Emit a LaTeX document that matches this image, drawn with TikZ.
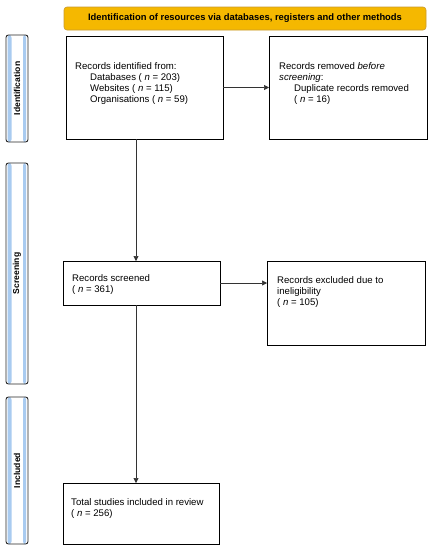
\documentclass[tikz,border=0pt]{standalone}
\usepackage{fontspec}
\setmainfont{Liberation Sans}
\usetikzlibrary{arrows.meta}
\definecolor{bannerfill}{HTML}{F5B800}
\definecolor{bannerline}{HTML}{C99A2E}
\definecolor{barblue}{HTML}{A9CBF0}
\begin{document}
\begin{tikzpicture}[x=1pt,y=-1pt,
  box/.style={draw=black, line width=0.9pt, fill=white, inner sep=0pt, outer sep=0pt},
  txt/.style={anchor=west, align=left, inner sep=0pt, font=\fontsize{9.6}{11}\selectfont},
  bar/.style={draw=black!85, line width=0.9pt, rounded corners=2.5pt, fill=white, minimum width=22pt, inner sep=0pt, outer sep=0pt,
    path picture={
      \fill[barblue] ([xshift=1.5pt]path picture bounding box.south west) rectangle ([xshift=5.5pt]path picture bounding box.north west);
      \fill[barblue] ([xshift=-5pt]path picture bounding box.south east) rectangle ([xshift=-2pt]path picture bounding box.north east);
    }},
  barlabel/.style={rotate=90, inner sep=0pt, font=\fontsize{8.6}{10}\selectfont\bfseries},
  arr/.style={draw=black!80, line width=0.6pt, -{Triangle[length=5pt,width=5pt]}}
]
\useasboundingbox (0,0) rectangle (431,550);
\fill[white] (0,0) rectangle (431,550);

% banner
\node[draw=bannerline, fill=bannerfill, line width=0.6pt, rounded corners=3pt, minimum width=362pt, minimum height=23pt, inner sep=0pt,
  font=\fontsize{9.4}{11}\selectfont\bfseries] (banner) at (245,18.5)
  {Identification of resources via databases, registers and other methods};

% side bars
\node[bar, minimum height=107pt] (idbar) at (17,88.5) {};
\node[barlabel] (idlabel) at (idbar.center) {Identification};
\node[bar, minimum height=221pt] (scrbar) at (17,273.5) {};
\node[barlabel] (scrlabel) at (scrbar.center) {Screening};
\node[bar, minimum height=147pt] (incbar) at (17,470.5) {};
\node[barlabel] (inclabel) at (incbar.center) {Included};

% boxes
\node[box, minimum width=157pt, minimum height=103pt] (idbox) at (144.5,87.5) {};
\node[box, minimum width=158pt, minimum height=103pt] (removed) at (348,87.5) {};
\node[box, minimum width=157pt, minimum height=44pt] (screened) at (141.5,283) {};
\node[box, minimum width=158pt, minimum height=84pt] (excluded) at (346,303) {};
\node[box, minimum width=156pt, minimum height=61pt] (included) at (141,513.5) {};

% texts
\node[txt] (idtext) at (75,83.5) {Records identified from:\\
\hspace*{15pt}Databases ( \textit{n} = 203)\\
\hspace*{15pt}Websites ( \textit{n} = 115)\\
\hspace*{15pt}Organisations ( \textit{n} = 59)};
\node[txt] (remtext) at (279,83.5) {Records removed \textit{before}\\
\textit{screening}:\\
\hspace*{15pt}Duplicate records removed\\
\hspace*{15pt}( \textit{n} = 16)};
\node[txt] (scrtext) at (72,284.5) {Records screened\\( \textit{n} = 361)};
\node[txt] (exctext) at (277,292.5) {Records excluded due to\\ineligibility\\( \textit{n} = 105)};
\node[txt] (inctext) at (71,509) {Total studies included in review\\( \textit{n} = 256)};

% connectors
\draw[arr] (idbox.east) -- (idbox.east -| removed.west);
\draw[arr] (screened.east) -- (screened.east -| excluded.west);
\draw[arr] ([xshift=70pt]idbox.south west) -- ([xshift=73pt]screened.north west);
\draw[arr] ([xshift=73pt]screened.south west) -- ([xshift=73pt]included.north west);
\end{tikzpicture}
\end{document}
